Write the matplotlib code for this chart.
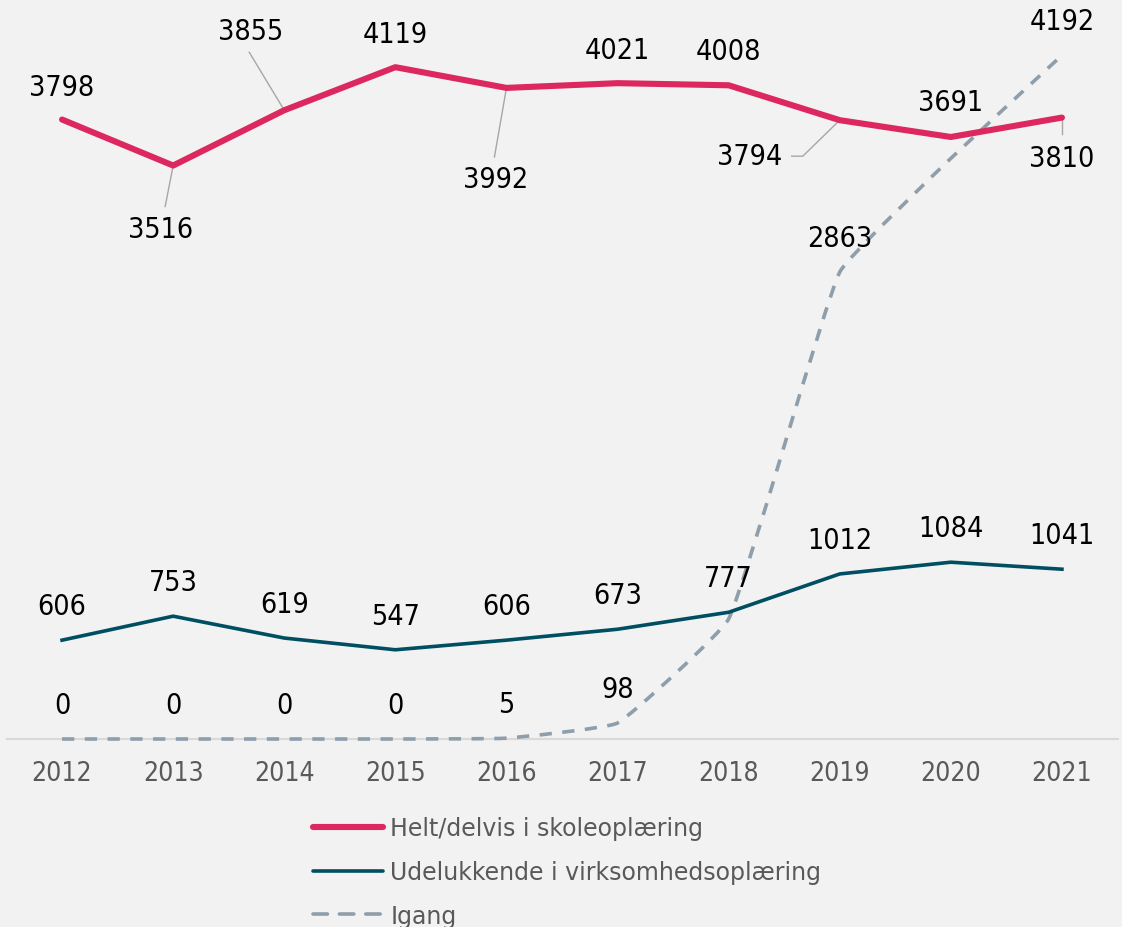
import numpy as np
import matplotlib
matplotlib.use("Agg")
import matplotlib.pyplot as plt
from matplotlib.path import Path
from matplotlib.patches import PathPatch
from matplotlib.lines import Line2D

years = ["2012", "2013", "2014", "2015", "2016", "2017", "2018", "2019", "2020", "2021"]
skole = [3798, 3516, 3855, 4119, 3992, 4021, 4008, 3794, 3691, 3810]
virksomhed = [606, 753, 619, 547, 606, 673, 777, 1012, 1084, 1041]
igang = [0, 0, 0, 0, 5, 98, 736, 2863, 3560, 4192]
igang_labelled = [True, True, True, True, True, True, False, True, False, True]

series_names = ["Helt/delvis i skoleoplæring", "Udelukkende i virksomhedsoplæring", "Igang"]

PINK = "#dc285f"
TEAL = "#004e62"
GREY = "#8e9eab"
BG = "#f2f2f2"

plt.rcParams['font.family'] = ['DejaVu Sans']

W, H = 1122, 928
fig = plt.figure(figsize=(W / 100, H / 100), dpi=100, facecolor=BG)
ax = fig.add_axes([6.5 / W, 188 / H, 1111 / W, 740 / H], facecolor=BG)

x = np.arange(len(years))
ax.set_xlim(-0.5, len(years) - 0.5)
ax.set_ylim(0, 4537)
fig.canvas.draw()

# lightly smoothed dashed line: cubic Bezier through the data points, tangent
# handles scaled by segment length in screen space
P = ax.transData.transform(np.column_stack([x, igang]).astype(float))
n = len(P)
tangents = []
for i in range(n):
    a = P[i - 1] if i > 0 else P[i]
    b = P[i + 1] if i < n - 1 else P[i]
    d = b - a
    tangents.append(d / np.hypot(*d))
K = 0.1
verts = [P[0]]
codes = [Path.MOVETO]
for i in range(n - 1):
    L = np.hypot(*(P[i + 1] - P[i]))
    c1 = P[i] + tangents[i] * L * K
    c2 = P[i + 1] - tangents[i + 1] * L * K
    verts += [c1, c2, P[i + 1]]
    codes += [Path.CURVE4] * 3
verts = ax.transData.inverted().transform(np.array(verts))
path = Path(verts, codes)
patch = PathPatch(path, facecolor="none", edgecolor=GREY, lw=2.6,
                  linestyle=(0, (3.4, 2.9)), capstyle="butt", zorder=3, clip_on=False)
ax.add_patch(patch)

ax.plot(x, virksomhed, color=TEAL, lw=2.6, zorder=4, clip_on=False)
ax.plot(x, skole, color=PINK, lw=4.4, zorder=5, solid_capstyle="round", clip_on=False)

LABEL_FS = 20.5

def label(i, v, dx, dy):
    ax.annotate(str(v), (x[i], v), xytext=(dx, dy), textcoords="offset pixels",
                ha="center", va="center", fontsize=LABEL_FS, color="black", zorder=6,
                fontstretch="condensed")

pink_off = [(0, 33), (-13, -63), (-34, 79), (0, 33), (-11, -91),
            (0, 33), (0, 34), (-90, -36), (0, 35), (0, -40)]
for i, (v, (dx, dy)) in enumerate(zip(skole, pink_off)):
    label(i, v, dx, dy)

def leader_line(i, v, segs):
    px, py = ax.transData.transform((x[i], v))
    xs = [px + s[0] for s in segs]
    ys = [py + s[1] for s in segs]
    d = ax.transData.inverted().transform(np.column_stack([xs, ys]))
    ax.add_line(Line2D(d[:, 0], d[:, 1], color="#a6a6a6", lw=1.0, zorder=4.5, clip_on=False))

leader_line(1, skole[1], [(0, 0), (-8, -41)])
leader_line(2, skole[2], [(0, 0), (-35, 58)])
leader_line(4, skole[4], [(0, 0), (-12, -69)])
leader_line(7, skole[7], [(0, 0), (-37, -36), (-48, -36)])
leader_line(9, skole[9], [(0, -2), (0, -16)])

for i, v in enumerate(virksomhed):
    label(i, v, 0, 34)

for i, (v, show) in enumerate(zip(igang, igang_labelled)):
    if show:
        label(i, v, 0, 34)

for s in ["top", "right", "left"]:
    ax.spines[s].set_visible(False)
ax.spines["bottom"].set_color("#d9d9d9")
ax.spines["bottom"].set_linewidth(1.5)
ax.set_yticks([])
ax.set_xticks(x)
ax.set_xticklabels(years, fontsize=19, color="#595959", fontstretch="condensed")
ax.tick_params(axis="x", length=0, pad=15)

handles = [
    Line2D([], [], color=PINK, lw=4.4, solid_capstyle="round"),
    Line2D([], [], color=TEAL, lw=2.6, solid_capstyle="round"),
    Line2D([], [], color=GREY, lw=2.6, linestyle=(0, (4.0, 3.3)), dash_capstyle="round"),
]
leg = fig.legend(handles, series_names, loc="upper left",
                 bbox_to_anchor=(313 / W, 1 - 817 / H), frameon=False,
                 fontsize=17, handlelength=2.97, handletextpad=0.3,
                 labelspacing=0.84, borderpad=0, borderaxespad=0)
for t in leg.get_texts():
    t.set_color("#595959")

fig.savefig("out.png", dpi=100, facecolor=BG)
